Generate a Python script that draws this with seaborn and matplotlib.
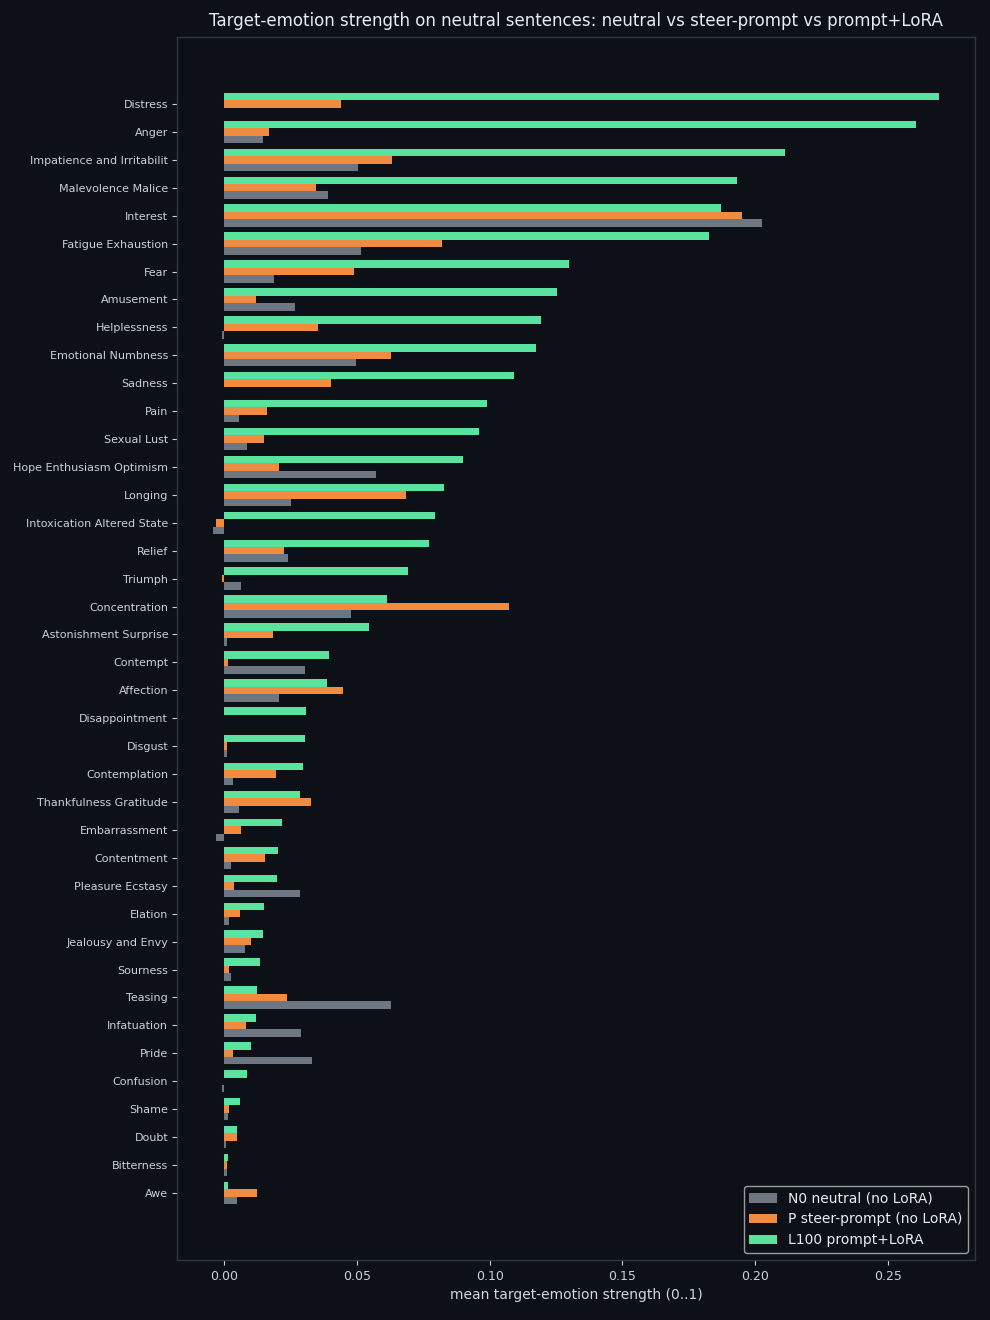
import pandas as pd
import numpy as np
import matplotlib
matplotlib.use("Agg")
import matplotlib.pyplot as plt
import seaborn as sns

# =====================================
# Data
# =====================================

emotions = [
    "Distress", "Anger", "Impatience and Irritabilit", "Malevolence Malice",
    "Interest", "Fatigue Exhaustion", "Fear", "Amusement", "Helplessness",
    "Emotional Numbness", "Sadness", "Pain", "Sexual Lust",
    "Hope Enthusiasm Optimism", "Longing", "Intoxication Altered State",
    "Relief", "Triumph", "Concentration", "Astonishment Surprise",
    "Contempt", "Affection", "Disappointment", "Disgust", "Contemplation",
    "Thankfulness Gratitude", "Embarrassment", "Contentment",
    "Pleasure Ecstasy", "Elation", "Jealousy and Envy", "Sourness",
    "Teasing", "Infatuation", "Pride", "Confusion", "Shame", "Doubt",
    "Bitterness", "Awe",
]

neutral_n0 = [
    0.0000, 0.0147, 0.0504, 0.0391, 0.2026, 0.0515, 0.0188, 0.0267, -0.0008,
    0.0496, 0.0000, 0.0056, 0.0086, 0.0571, 0.0252, -0.0041, 0.0241, 0.0064,
    0.0477, 0.0011, 0.0305, 0.0207, 0.0000, 0.0011, 0.0034, 0.0056, -0.0030,
    0.0026, 0.0286, 0.0019, 0.0079, 0.0026, 0.0628, 0.0289, 0.0331, -0.0008,
    0.0015, 0.0008, 0.0011, 0.0049,
]

steer_prompt = [
    0.0440, 0.0169, 0.0632, 0.0346, 0.1951, 0.0820, 0.0489, 0.0120, 0.0353,
    0.0628, 0.0402, 0.0162, 0.0150, 0.0207, 0.0684, -0.0030, 0.0226, -0.0008,
    0.1071, 0.0184, 0.0015, 0.0447, 0.0000, 0.0011, 0.0195, 0.0327, 0.0064,
    0.0154, 0.0038, 0.0060, 0.0102, 0.0019, 0.0237, 0.0083, 0.0034, 0.0000,
    0.0019, 0.0049, 0.0011, 0.0124,
]

prompt_lora = [
    0.2692, 0.2605, 0.2113, 0.1932, 0.1872, 0.1827, 0.1297, 0.1252, 0.1192,
    0.1173, 0.1090, 0.0989, 0.0959, 0.0898, 0.0827, 0.0793, 0.0771, 0.0692,
    0.0613, 0.0545, 0.0395, 0.0387, 0.0308, 0.0305, 0.0297, 0.0286, 0.0218,
    0.0203, 0.0199, 0.0150, 0.0147, 0.0135, 0.0124, 0.0120, 0.0102, 0.0086,
    0.0060, 0.0049, 0.0015, 0.0015,
]

conditions = ["N0 neutral (no LoRA)", "P steer-prompt (no LoRA)", "L100 prompt+LoRA"]

df = pd.DataFrame({
    "emotion": emotions,
    conditions[0]: neutral_n0,
    conditions[1]: steer_prompt,
    conditions[2]: prompt_lora,
})
long_df = df.melt(id_vars="emotion", var_name="condition", value_name="strength")

# =====================================
# Style
# =====================================

bg = "#0d1017"
palette = {
    conditions[0]: "#6e7681",
    conditions[1]: "#f08b40",
    conditions[2]: "#5ae39f",
}

sns.set_style("dark", rc={
    "axes.facecolor": bg,
    "figure.facecolor": bg,
    "axes.edgecolor": "#30363d",
    "axes.labelcolor": "#d0d7de",
    "text.color": "#e6edf3",
    "xtick.color": "#c9d1d9",
    "ytick.color": "#c9d1d9",
    "xtick.bottom": True,
    "ytick.left": True,
    "axes.grid": False,
})
plt.rcParams["font.family"] = ["DejaVu Sans"]

# =====================================
# Plot
# =====================================

fig = plt.figure(figsize=(9.9, 13.2), dpi=100)
ax = fig.add_axes([0.179, 0.0455, 0.806, 0.9265])

# draw order top-to-bottom inside each group: L100, P, N0
sns.barplot(
    data=long_df,
    x="strength",
    y="emotion",
    hue="condition",
    order=emotions,
    hue_order=conditions[::-1],
    palette=palette,
    saturation=1,
    width=0.8,
    linewidth=0,
    orient="h",
    ax=ax,
)

ax.set_ylim(len(emotions) - 1 + 2.4, -2.4)
ax.set_xticks([0.0, 0.05, 0.10, 0.15, 0.20, 0.25])
ax.set_xticklabels(["0.00", "0.05", "0.10", "0.15", "0.20", "0.25"])
ax.tick_params(axis="y", labelsize=8, length=3.5, width=0.8, pad=3)
ax.tick_params(axis="x", labelsize=9, length=3.5, width=0.8)

for spine in ax.spines.values():
    spine.set_color("#30363d")
    spine.set_linewidth(1)

ax.set_ylabel("")
ax.set_xlabel("mean target-emotion strength (0..1)", fontsize=10, color="#d0d7de")
ax.set_title(
    "Target-emotion strength on neutral sentences: neutral vs steer-prompt vs prompt+LoRA",
    fontsize=12, color="#e6edf3", pad=8,
)

handles, labels = ax.get_legend_handles_labels()
leg = ax.legend(
    handles[::-1], labels[::-1],
    loc="lower right",
    fontsize=10,
    facecolor=bg,
    edgecolor="#9a9a9a",
    framealpha=1,
    labelcolor="#e6edf3",
)

plt.savefig("out.png", dpi=100, facecolor=bg)
plt.close()
